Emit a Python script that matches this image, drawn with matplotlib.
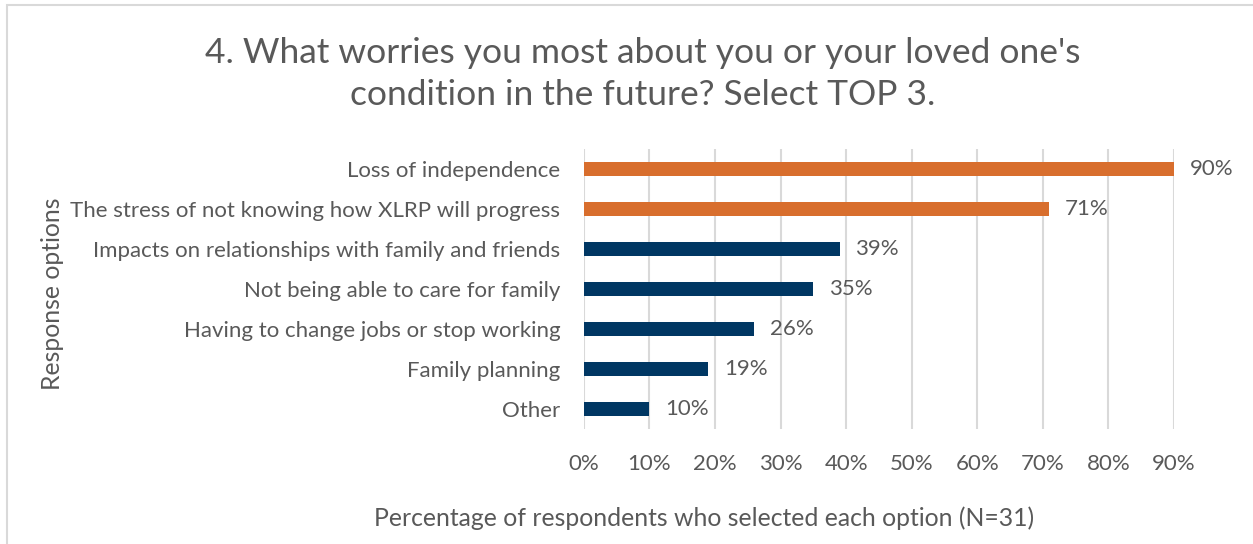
import matplotlib.pyplot as plt
from matplotlib.patches import Rectangle

# Survey question 4 results
options = [
    "Loss of independence",
    "The stress of not knowing how XLRP will progress",
    "Impacts on relationships with family and friends",
    "Not being able to care for family",
    "Having to change jobs or stop working",
    "Family planning",
    "Other",
]
shares = [0.90, 0.71, 0.39, 0.35, 0.26, 0.19, 0.10]
highlight = [True, True, False, False, False, False, False]
tick_values = [0.0, 0.1, 0.2, 0.3, 0.4, 0.5, 0.6, 0.7, 0.8, 0.9]

ORANGE = "#D86E2D"
NAVY = "#003763"
TEXT = "#595959"
GRID = "#D9D9D9"

plt.rcParams['font.family'] = ['Lato', 'DejaVu Sans']

fig = plt.figure(figsize=(12.53, 5.44), dpi=100)
ax = fig.add_axes([0.466, 0.2114, 0.471, 0.5146])

# outer chart border
fig.patches.append(Rectangle((7 / 1253, -0.01), 1.0, 1 - 5 / 544 + 0.01,
                             transform=fig.transFigure, fill=False,
                             edgecolor=GRID, linewidth=1.5))

ypos = list(range(len(options)))
colors = [ORANGE if h else NAVY for h in highlight]
ax.barh(ypos, shares, height=0.37, color=colors, zorder=3)

for y, v in zip(ypos, shares):
    ax.text(v + 0.024, y, f"{v:.0%}", va="center", ha="left",
            fontsize=16, color=TEXT)

ax.set_xlim(0, 0.9)
ax.set_ylim(len(options) - 0.5, -0.5)
ax.set_yticks(ypos)
ax.set_yticklabels(options)
ax.set_xticks(tick_values)
ax.set_xticklabels([f"{t:.0%}" for t in tick_values])
ax.tick_params(axis="both", length=0, labelsize=16, labelcolor=TEXT)
ax.tick_params(axis="y", pad=17)
ax.tick_params(axis="x", pad=18)

ax.grid(axis="x", color=GRID, linewidth=1.5, zorder=0)
for s in ax.spines.values():
    s.set_visible(False)

fig.text(704 / 1253, 1 - 518 / 544,
         "Percentage of respondents who selected each option (N=31)",
         ha="center", va="center", fontsize=17.8, color=TEXT)
fig.text(53 / 1253, 1 - 294 / 544, "Response options", rotation=90,
         ha="center", va="center", fontsize=17.8, color=TEXT)

fig.text(643 / 1253, 1 - 74 / 544,
         "4. What worries you most about you or your loved one's\ncondition in the future? Select TOP 3.",
         ha="center", va="center", fontsize=25.5, color=TEXT, linespacing=1.4)

fig.savefig("out.png", dpi=100)
